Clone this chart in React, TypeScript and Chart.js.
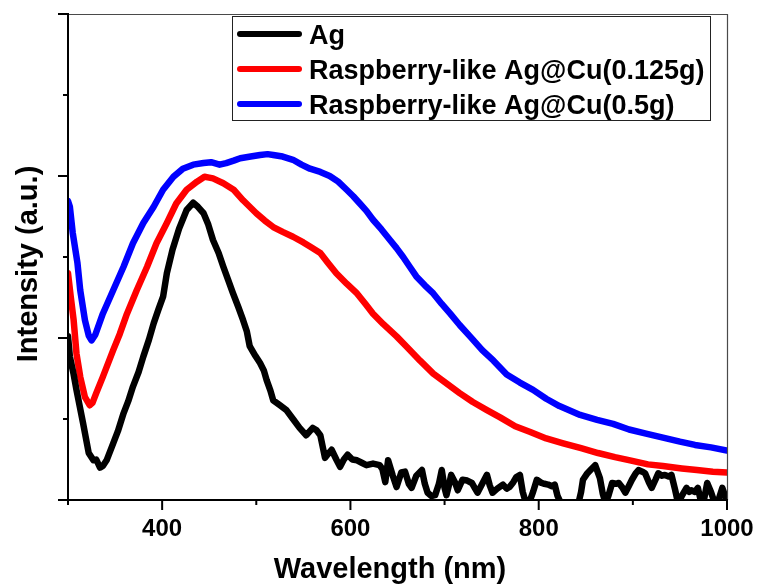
import React, { useEffect, useRef } from 'react';
import { Chart, registerables } from 'chart.js';

Chart.register(...registerables);

// ---- data ----
const agWavelengths = [
  300, 302, 306, 309, 316, 322, 327, 330, 334, 337, 341, 348, 353, 359, 364, 369, 375, 380, 386, 391,
  396, 401, 405, 411, 418, 426, 433, 438, 444, 449, 454, 460, 465, 470, 475, 481, 486, 490, 493, 499,
  504, 508, 511, 515, 518, 525, 532, 539, 546, 553, 560, 564, 568, 573, 577, 580, 585, 589, 593, 597,
  602, 607, 612, 617, 624, 631, 634, 637, 640, 645, 649, 654, 658, 662, 665, 670, 676, 679, 682, 686,
  690, 694, 697, 700, 702, 705, 707, 711, 714, 719, 724, 729, 732, 735, 740, 745, 748, 751, 756, 762,
  766, 769, 773, 776, 780, 783, 786, 790, 794, 798, 803, 806, 810, 814, 817, 820, 824, 830, 836, 842,
  845, 847, 851, 855, 860, 865, 868, 871, 874, 878, 882, 885, 889, 892, 896, 899, 903, 906, 910, 913,
  917, 920, 924, 927, 931, 934, 938, 941, 945, 948, 952, 957, 960, 962, 966, 969, 972, 975, 979, 983,
  987, 991, 995, 998, 1000,
];
const agIntensity = [
  2.02, 1.77, 1.55, 1.36, 0.95, 0.58, 0.49, 0.5, 0.4, 0.42, 0.49, 0.7, 0.85, 1.07, 1.22, 1.4, 1.58, 1.77, 1.98, 2.18,
  2.35, 2.51, 2.8, 3.09, 3.35, 3.58, 3.67, 3.62, 3.54, 3.4, 3.21, 3.05, 2.88, 2.72, 2.56, 2.38, 2.22, 2.08, 1.9, 1.78,
  1.69, 1.6, 1.48, 1.35, 1.23, 1.17, 1.11, 1.0, 0.89, 0.8, 0.89, 0.86, 0.8, 0.52, 0.58, 0.62, 0.5, 0.41, 0.5, 0.56,
  0.5, 0.49, 0.46, 0.43, 0.45, 0.43, 0.38, 0.22, 0.49, 0.3, 0.16, 0.34, 0.35, 0.2, 0.15, 0.3, 0.37, 0.2, 0.09, 0.05,
  0.06, 0.2, 0.37, 0.15, 0.06, 0.2, 0.31, 0.22, 0.12, 0.25, 0.24, 0.21, 0.15, 0.09, 0.2, 0.31, 0.18, 0.09, 0.14, 0.19,
  0.14, 0.16, 0.22, 0.28, 0.31, 0.1, -0.02, -0.03, 0.1, 0.25, 0.21, 0.2, 0.19, 0.17, 0.19, 0.05, -0.05, -0.05, -0.04, -0.05,
  0.1, 0.25, 0.32, 0.37, 0.43, 0.27, 0.08, -0.04, 0.05, 0.21, 0.2, 0.21, 0.15, 0.09, 0.18, 0.25, 0.33, 0.37, 0.35, 0.33,
  0.22, 0.15, 0.25, 0.33, 0.3, 0.31, 0.29, 0.31, 0.12, -0.04, 0.05, 0.15, 0.1, 0.12, 0.1, 0.15, 0.0, -0.03, 0.21, 0.1,
  -0.04, 0.0, 0.15, 0.05, -0.02,
];

const cu0125Wavelengths = [
  300, 303, 306, 309, 313, 318, 323, 326, 330, 337, 348, 355, 362, 373, 384, 394, 405, 415, 426, 437,
  445, 450, 454, 465, 476, 486, 500, 509, 518, 528, 539, 550, 557, 568, 576, 585, 596, 607, 616, 624,
  635, 649, 660, 674, 688, 702, 716, 730, 745, 759, 775, 791, 808, 826, 845, 863, 881, 897, 916, 932,
  952, 968, 985, 1000,
];
const cu0125Intensity = [
  2.8, 2.5, 2.22, 1.81, 1.52, 1.27, 1.17, 1.2, 1.32, 1.52, 1.85, 2.05, 2.28, 2.59, 2.88, 3.17, 3.42, 3.66, 3.83, 3.93,
  3.99, 3.98, 3.97, 3.91, 3.83, 3.7, 3.54, 3.45, 3.37, 3.31, 3.25, 3.18, 3.13, 3.05, 2.93, 2.8, 2.67, 2.55, 2.42, 2.3,
  2.17, 2.02, 1.89, 1.72, 1.56, 1.44, 1.32, 1.21, 1.11, 1.02, 0.91, 0.84, 0.76, 0.7, 0.64, 0.58, 0.53, 0.49, 0.44, 0.42,
  0.39, 0.37, 0.35, 0.34,
];

const cu05Wavelengths = [
  300, 302, 305, 310, 313, 318, 322, 325, 329, 337, 348, 359, 369, 380, 391, 401, 412, 422, 433, 444,
  452, 461, 468, 476, 483, 494, 504, 512, 518, 528, 539, 548, 557, 568, 578, 587, 596, 603, 610, 617,
  624, 633, 642, 649, 656, 663, 670, 679, 688, 697, 706, 716, 727, 740, 752, 766, 780, 794, 808, 822,
  844, 862, 879, 896, 914, 932, 950, 966, 983, 1000,
];
const cu05Intensity = [
  3.69, 3.62, 3.3, 2.93, 2.59, 2.22, 2.03, 1.97, 2.04, 2.3, 2.59, 2.88, 3.17, 3.42, 3.62, 3.83, 3.99, 4.09, 4.14, 4.16,
  4.17, 4.14, 4.16, 4.19, 4.22, 4.24, 4.26, 4.27, 4.26, 4.24, 4.2, 4.14, 4.09, 4.05, 4.0, 3.93, 3.83, 3.75, 3.66, 3.57,
  3.46, 3.34, 3.21, 3.11, 3.0, 2.88, 2.76, 2.65, 2.55, 2.42, 2.3, 2.16, 2.02, 1.85, 1.72, 1.55, 1.45, 1.36, 1.25, 1.16,
  1.05, 0.99, 0.94, 0.87, 0.82, 0.77, 0.72, 0.68, 0.65, 0.61,
];

const seriesLabels = ['Ag', 'Raspberry-like Ag@Cu(0.125g)', 'Raspberry-like Ag@Cu(0.5g)'];
const seriesColors = ['#000000', '#ff0000', '#0000ff'];
const xTickLabels = ['400', '600', '800', '1000'];
const xAxisTitle = 'Wavelength (nm)';
const yAxisTitle = 'Intensity (a.u.)';

const FONT = '"Liberation Sans", Arial, Helvetica, sans-serif';

const zip = (xs: number[], ys: number[]) => xs.map((x, i) => ({ x, y: ys[i] }));

const decorPlugin = {
  id: 'decor',
  afterDatasetsDraw(chart: any) {
    const { ctx, chartArea: a, scales } = chart;
    const xs = scales.x;
    const ys = scales.y;
    ctx.save();

    // frame (top + right)
    ctx.strokeStyle = '#4a4a4a';
    ctx.lineWidth = 1.2;
    ctx.beginPath();
    ctx.moveTo(a.left, a.top + 0.5);
    ctx.lineTo(a.right + 0.5, a.top + 0.5);
    ctx.lineTo(a.right + 0.5, a.bottom);
    ctx.stroke();

    // axes
    ctx.strokeStyle = '#000';
    ctx.lineWidth = 2;
    ctx.beginPath();
    ctx.moveTo(a.left, a.top - 1);
    ctx.lineTo(a.left, a.bottom);
    ctx.lineTo(a.right + 1, a.bottom);
    ctx.stroke();

    // x ticks
    xs.ticks.forEach((t: any) => {
      const px = xs.getPixelForValue(t.value);
      const major = t.value % 200 === 0;
      ctx.beginPath();
      ctx.moveTo(px, a.bottom);
      ctx.lineTo(px, a.bottom + (major ? 10 : 5));
      ctx.stroke();
    });
    // y ticks
    ys.ticks.forEach((t: any) => {
      const py = ys.getPixelForValue(t.value);
      const major = t.value % 2 === 0;
      ctx.beginPath();
      ctx.moveTo(a.left - (major ? 10 : 5), py);
      ctx.lineTo(a.left, py);
      ctx.stroke();
    });

    // axis titles
    ctx.fillStyle = '#000';
    ctx.font = `bold 29px ${FONT}`;
    ctx.textAlign = 'center';
    ctx.textBaseline = 'alphabetic';
    ctx.fillText(xAxisTitle, 390, 578);
    ctx.save();
    ctx.translate(37, 264);
    ctx.rotate(-Math.PI / 2);
    ctx.fillText(yAxisTitle, 0, 0);
    ctx.restore();

    // legend
    const bx = 232.5, by = 16.5, bw = 478, bh = 104;
    ctx.fillStyle = '#fff';
    ctx.fillRect(bx, by, bw, bh);
    ctx.strokeStyle = '#222';
    ctx.lineWidth = 1;
    ctx.strokeRect(bx, by, bw, bh);
    const rows = [34, 69, 104];
    chart.data.datasets.forEach((ds: any, i: number) => {
      const yy = rows[i];
      ctx.strokeStyle = ds.borderColor;
      ctx.lineWidth = 6;
      ctx.lineCap = 'round';
      ctx.beginPath();
      ctx.moveTo(240, yy);
      ctx.lineTo(299, yy);
      ctx.stroke();
      ctx.fillStyle = '#000';
      ctx.font = `bold 27px ${FONT}`;
      ctx.textAlign = 'left';
      ctx.textBaseline = 'alphabetic';
      ctx.fillText(ds.label, 309, yy + 10);
    });
    ctx.restore();
  },
};

export default function App() {
  const ref = useRef<HTMLCanvasElement>(null);
  useEffect(() => {
    if (!ref.current) return;
    const series = [
      zip(agWavelengths, agIntensity),
      zip(cu0125Wavelengths, cu0125Intensity),
      zip(cu05Wavelengths, cu05Intensity),
    ];
    const chart = new Chart(ref.current, {
      type: 'line',
      data: {
        datasets: series.map((d, i) => ({
          label: seriesLabels[i],
          data: d,
          borderColor: seriesColors[i],
          backgroundColor: seriesColors[i],
          borderWidth: 6.5,
          pointRadius: 0,
          tension: 0,
          fill: false,
          borderJoinStyle: 'round' as const,
          borderCapStyle: 'round' as const,
          clip: 0,
        })),
      },
      options: {
        responsive: false,
        animation: false,
        events: [],
        layout: { padding: { left: 0, top: 14, right: 34, bottom: 0 } },
        plugins: { legend: { display: false }, tooltip: { enabled: false }, title: { display: false } },
        scales: {
          x: {
            type: 'linear',
            min: 300,
            max: 1000,
            afterFit: (s: any) => { s.height = 85; s.paddingLeft = 0; s.paddingRight = 0; },
            grid: { display: false, drawTicks: false },
            border: { display: false },
            ticks: {
              stepSize: 100,
              autoSkip: false,
              maxRotation: 0,
              padding: 15,
              color: '#000',
              font: { family: FONT, size: 24, weight: 'bold' },
              callback: (v: any) => (xTickLabels.includes(String(v)) ? String(v) : ''),
            },
          },
          y: {
            type: 'linear',
            min: 0,
            max: 6,
            afterFit: (s: any) => { s.width = 68; s.paddingTop = 0; s.paddingBottom = 0; },
            grid: { display: false, drawTicks: false },
            border: { display: false },
            ticks: { display: true, stepSize: 1, callback: () => '' },
          },
        },
      },
      plugins: [decorPlugin],
    });
    return () => chart.destroy();
  }, []);
  return (
    <div style={{ position: 'fixed', left: 0, top: 0, width: 761, height: 585, background: '#fff' }}>
      <canvas ref={ref} width={761} height={585} />
    </div>
  );
}
